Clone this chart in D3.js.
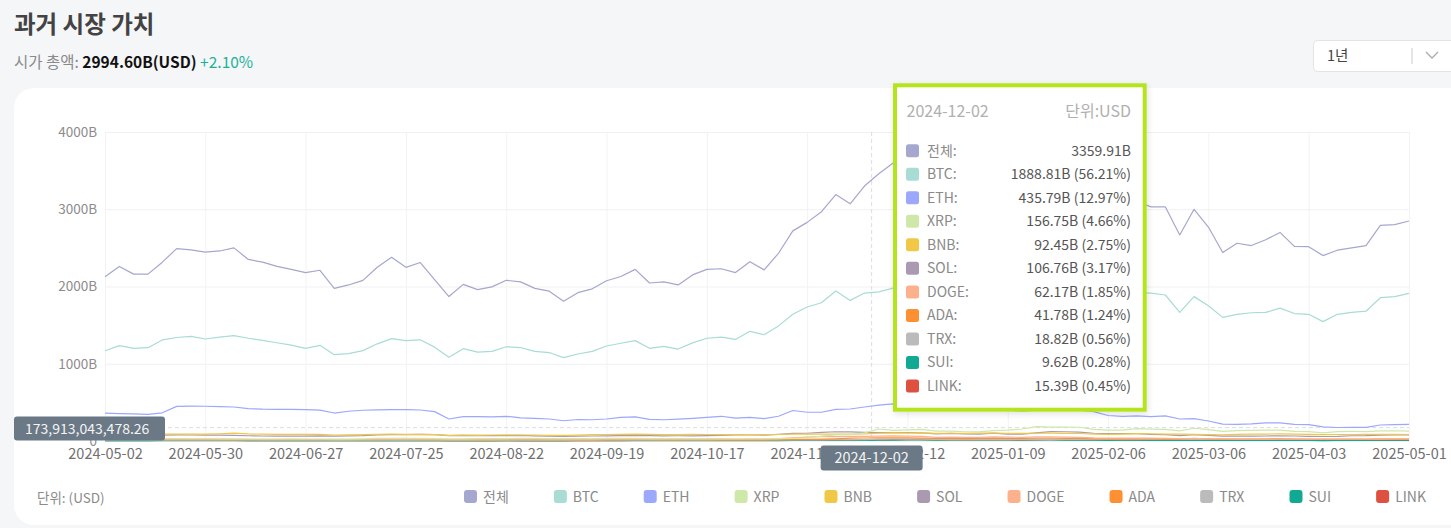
<!DOCTYPE html>
<html>
<head>
<meta charset="utf-8">
<title>과거 시장 가치</title>
<script src="https://cdn.jsdelivr.net/npm/d3@7"></script>
<style>
  body { margin: 0; background: #f5f6f8; overflow: hidden; }
  svg { display: block; font-family: "Noto Sans CJK KR", "Noto Sans", sans-serif; }
</style>
</head>
<body>
<script>

// series names and colours (legend order)
var names = ["전체", "BTC", "ETH", "XRP", "BNB", "SOL", "DOGE", "ADA", "TRX", "SUI", "LINK"];
var colours = ["#a5a7cf", "#a8dcd4", "#9ca8fb", "#cde8a8", "#f0c845", "#a999b1",
               "#fcb18c", "#fd9032", "#bbbbbb", "#12a993", "#de5141"];

// one reading every 4 days, 2024-05-02 .. 2025-05-01, market cap in B USD
var firstDay = "2024-05-02", stepDays = 4;

var total = [2127,2260,2160,2160,2315,2490,2475,2445,2460,2500,2350,2315,2260,2222,2180,2210,
  1975,2020,2080,2250,2378,2248,2310,2090,1870,2028,1960,1995,2080,2060,1976,1940,1810,1920,1970,2075,
  2130,2222,2045,2060,2020,2150,2222,2230,2180,2320,2215,2430,2720,2830,2969,3190,3070,3300,3460,3600,
  3650,3780,3400,3450,3330,3360,3600,3350,3250,3650,3700,3550,3500,3200,3150,3130,3100,
  3030,3030,2667,2999,2770,2440,2560,2530,2605,2700,2520,2515,2400,2470,2500,2530,2790,2800,2848];

var btc = [1169,1235,1200,1208,1308,1340,1355,1320,1345,1365,1330,1302,1272,1240,1200,1238,
  1118,1132,1170,1258,1326,1300,1310,1215,1085,1195,1150,1160,1220,1210,1160,1145,1080,1126,1160,1230,
  1265,1299,1200,1225,1190,1270,1330,1345,1315,1420,1375,1490,1640,1735,1790,1942,1820,1915,1930,1978,
  1990,2100,1920,1950,1880,1860,1950,1870,1870,2060,2080,2080,2060,1940,1920,1910,1920,
  1915,1890,1665,1869,1750,1600,1640,1660,1665,1720,1650,1640,1545,1640,1665,1680,1855,1869,1912];

var eth = [360,355,352,345,365,448,452,450,446,440,420,412,410,410,405,400,
  362,385,398,402,406,405,401,380,285,315,315,312,320,300,293,285,262,278,275,285,
  306,312,280,275,283,293,306,320,295,306,290,320,395,372,372,410,414,440,465,480,
  470,475,410,420,400,405,440,400,385,400,395,400,400,380,330,320,325,
  315,325,285,290,259,218,216,222,235,235,216,212,182,175,177,177,207,212,216];

var xrp = [29,28,29,28,29,30,29,29,28,27,26,26,26,27,26,26,24,24,28,33,34,33,34,32,27,28,30,31,32,33,
  33,31,30,31,32,33,34,33,32,30,31,31,30,30,29,29,29,31,33,40,62,80,83,105,155,138,
  145,150,128,128,120,118,135,140,155,185,180,180,178,150,140,140,160,
  155,150,130,165,148,125,135,138,142,140,125,122,105,122,124,122,130,133,128];

var bnb = [86,88,87,88,89,88,88,89,94,103,92,88,86,85,85,86,78,80,82,86,88,86,85,82,72,76,76,78,80,78,78,
  74,74,76,82,84,86,88,85,82,83,85,84,83,82,83,82,84,88,89,88,90,89,92,100,105,
  103,105,98,100,98,102,102,100,98,100,102,98,97,90,85,90,95,
  94,90,88,87,83,80,85,88,90,92,88,86,82,84,84,85,86,85,84];

var sol = [65,67,70,70,77,80,78,76,75,73,68,65,63,62,63,66,64,66,70,80,83,82,85,83,70,72,68,69,70,73,67,
  62,61,63,65,67,69,72,70,67,68,67,70,73,79,82,76,87,98,100,112,120,118,112,108,110,
  110,105,92,98,91,90,102,90,90,105,122,120,115,100,95,95,95,
  86,82,70,82,72,62,62,63,65,68,65,60,58,60,68,70,77,78,78];

var doge = [20,22,21,22,24,24,23,23,23,22,20,19,18,18,17,17,15,15,16,18,19,19,18,16,14,15,14,14,15,15,15,
  14,14,14,15,16,16,18,17,16,16,17,19,20,21,24,23,30,40,50,58,57,60,60,62,66,
  63,60,48,50,47,47,53,50,48,55,55,50,48,40,38,38,38,
  37,34,30,32,30,26,25,25,25,26,25,24,23,23,23,23,25,26,26];

var ada = [16,17,16,16,17,18,16,16,15,15,15,14,14,14,13,14,13,13,14,15,16,16,15,14,12,13,12,12,13,13,12,
  12,12,12,12,13,13,14,13,12,12,13,12,12,12,12,12,14,18,20,24,28,36,39,42,40,
  40,38,34,36,32,33,37,35,34,37,36,34,33,28,27,27,28,
  27,25,24,33,26,25,25,25,26,27,24,22,21,21,22,22,24,24,24];

var trx = [10,10,10,10,11,11,11,11,11,11,11,11,11,11,11,11,11,11,11,12,12,12,12,12,11,11,11,11,12,13,14,
  13,13,13,13,13,13,13,13,13,14,14,14,14,14,14,14,14,15,15,15,17,17,17,25,26,
  23,24,21,22,22,22,22,21,21,22,22,21,21,21,21,21,21,
  21,21,21,21,21,21,20,20,21,21,21,21,21,21,21,22,22,22,22];

var sui = [2,2,2,2,3,3,3,3,3,3,2,2,2,2,2,2,2,2,2,2,2,2,2,2,2,2,2,2,2,2,2,
  2,2,3,3,4,4,5,5,5,5,6,6,6,5,5,5,6,8,10,11,10,10,9,10,12,
  13,13,11,13,13,14,15,14,14,14,13,12,12,10,9,10,10,
  9,9,9,9,8,8,7,7,8,8,7,7,6,7,7,7,11,11,11];

var link = [8,8,8,9,9,10,10,10,10,10,9,9,8,8,8,8,7,7,8,8,8,8,8,7,6,6,6,6,7,6,6,
  6,6,6,6,6,6,7,7,7,7,7,7,7,7,7,7,8,8,8,9,10,10,12,15,15,
  17,18,14,14,13,13,13,13,12,14,16,15,15,13,12,12,12,
  11,10,9,10,10,9,9,9,9,10,9,8,7,8,8,8,9,9,9];

var series = [total, btc, eth, xrp, bnb, sol, doge, ada, trx, sui, link];

// axis ticks
var xTickLabels = ["2024-05-02","2024-05-30","2024-06-27","2024-07-25","2024-08-22","2024-09-19",
  "2024-10-17","2024-11-14","2024-12-12","2025-01-09","2025-02-06","2025-03-06","2025-04-03","2025-05-01"];
var yTicks = [0, 1000, 2000, 3000, 4000];

// hovered point shown in the tooltip
var hoverDay = "2024-12-02";
var hoverValueLabel = "173,913,043,478.26";
var tipValues = ["3359.91B", "1888.81B", "435.79B", "156.75B", "92.45B", "106.76B",
                 "62.17B", "41.78B", "18.82B", "9.62B", "15.39B"];
var tipShares = ["", "56.21%", "12.97%", "4.66%", "2.75%", "3.17%", "1.85%", "1.24%", "0.56%", "0.28%", "0.45%"];

var parse = d3.utcParse("%Y-%m-%d");
var fmt = d3.utcFormat("%Y-%m-%d");
var dates = total.map(function (d, i) { return d3.utcDay.offset(parse(firstDay), i * stepDays); });

var W = 1451, H = 528;
var svg = d3.select("body").append("svg").attr("width", W).attr("height", H);

// page header
svg.append("text").attr("x", 14).attr("y", 33)
   .attr("font-size", 23.5).attr("font-weight", 700).attr("fill", "#434343")
   .text("과거 시장 가치");

var sub = svg.append("text").attr("x", 14).attr("y", 68).attr("font-size", 15.5);
sub.append("tspan").attr("fill", "#8a8a8a").text("시가 총액: ");
sub.append("tspan").attr("fill", "#111").attr("font-weight", 700).text("2994.60B(USD)");
sub.append("tspan").attr("fill", "#1db198").text(" +2.10%");

// period select box
svg.append("rect").attr("x", 1313.5).attr("y", 40.5).attr("width", 150).attr("height", 31)
   .attr("rx", 4).attr("fill", "#fff").attr("stroke", "#e3e3e3");
svg.append("text").attr("x", 1327).attr("y", 61).attr("font-size", 14.5).attr("fill", "#444").text("1년");
svg.append("line").attr("x1", 1412).attr("x2", 1412).attr("y1", 48).attr("y2", 64)
   .attr("stroke", "#dcdcdc").attr("stroke-width", 1.5);
svg.append("path").attr("d", "M1426,52 L1432,58 L1438,52").attr("fill", "none")
   .attr("stroke", "#aaa").attr("stroke-width", 1.3);

// white card
svg.append("rect").attr("x", 14).attr("y", 88).attr("width", 1460).attr("height", 437)
   .attr("rx", 20).attr("fill", "#fff");

// scales
var x = d3.scaleUtc().domain([parse(xTickLabels[0]), parse(xTickLabels[xTickLabels.length - 1])]).range([105, 1409]);
var y = d3.scaleLinear().domain([0, 4000]).range([441, 132]);

// grid
svg.append("g").attr("transform", "translate(0,441)")
   .call(d3.axisBottom(x).tickValues(xTickLabels.map(parse)).tickSize(-309).tickFormat(""))
   .call(function (g) {
      g.select(".domain").remove();
      g.selectAll("line").attr("stroke", "#f3f3f5");
   });
svg.append("g").attr("transform", "translate(105,0)")
   .call(d3.axisLeft(y).tickValues(yTicks).tickSize(-1304).tickFormat(""))
   .call(function (g) {
      g.select(".domain").remove();
      g.selectAll("line").attr("stroke", "#f1f1f3");
   });

// axis labels
svg.append("g").attr("transform", "translate(97,0)")
   .call(d3.axisLeft(y).tickValues(yTicks).tickSize(0).tickPadding(0)
         .tickFormat(function (d) { return d === 0 ? "0" : d + "B"; }))
   .call(function (g) {
      g.select(".domain").remove();
      g.selectAll("text").attr("font-size", 13.5).attr("fill", "#8c8c8c")
       .attr("font-family", "\"Noto Sans CJK KR\", sans-serif");
   });
svg.append("g").attr("transform", "translate(0,449)")
   .call(d3.axisBottom(x).tickValues(xTickLabels.map(parse)).tickSize(0).tickPadding(0).tickFormat(fmt))
   .call(function (g) {
      g.select(".domain").remove();
      g.selectAll("text").attr("font-size", 14.5).attr("fill", "#707070")
       .attr("font-family", "\"Noto Sans CJK KR\", sans-serif");
   });

// crosshair
var hx = x(parse(hoverDay));
svg.append("line").attr("x1", hx).attr("x2", hx).attr("y1", 132).attr("y2", 441)
   .attr("stroke", "#dcdde3").attr("stroke-dasharray", "4,3");
svg.append("line").attr("x1", 105).attr("x2", 1409).attr("y1", 427.6).attr("y2", 427.6)
   .attr("stroke", "#dcdde3").attr("stroke-dasharray", "4,3");

// lines
var line = d3.line()
   .x(function (d, i) { return x(dates[i]); })
   .y(function (d) { return y(d); });

svg.append("g").selectAll("path")
   .data(series.slice().reverse())
   .enter().append("path")
   .attr("d", line)
   .attr("fill", "none")
   .attr("stroke-width", 1.2)
   .attr("stroke-linejoin", "round")
   .attr("stroke", function (d, i) { return colours[series.length - 1 - i]; });

// crosshair tags
svg.append("rect").attr("x", 14).attr("y", 416.5).attr("width", 151).attr("height", 24)
   .attr("rx", 3).attr("fill", "#6b7986");
svg.append("text").attr("x", 25).attr("y", 433.5).attr("font-size", 14).attr("fill", "#f4f4f4")
   .text(hoverValueLabel);
svg.append("rect").attr("x", hx - 51).attr("y", 445.5).attr("width", 102).attr("height", 25)
   .attr("rx", 3).attr("fill", "#6b7986");
svg.append("text").attr("x", hx).attr("y", 463).attr("font-size", 14.5).attr("fill", "#f4f4f4")
   .attr("text-anchor", "middle").text(hoverDay);

// tooltip
var defs = svg.append("defs");
var f = defs.append("filter").attr("id", "sh").attr("x", "-10%").attr("y", "-10%").attr("width", "130%").attr("height", "130%");
f.append("feDropShadow").attr("dx", 1).attr("dy", 2).attr("stdDeviation", 3).attr("flood-color", "#000").attr("flood-opacity", 0.12);

svg.append("rect").attr("x", 895).attr("y", 85.3).attr("width", 249.7).attr("height", 324.4)
   .attr("fill", "#fff").attr("stroke", "#b4e51e").attr("stroke-width", 4).attr("filter", "url(#sh)");
svg.append("text").attr("x", 906.5).attr("y", 117).attr("font-size", 16).attr("fill", "#b0b0b0").text(hoverDay);
svg.append("text").attr("x", 1131).attr("y", 117).attr("font-size", 16).attr("fill", "#b0b0b0")
   .attr("text-anchor", "end").text("단위:USD");

var rows = svg.append("g").selectAll("g").data(names).enter().append("g")
   .attr("transform", function (d, i) { return "translate(0," + (150.7 + i * 23.53) + ")"; });
rows.append("rect").attr("x", 906).attr("y", -6.5).attr("width", 13).attr("height", 13).attr("rx", 2.5)
   .attr("fill", function (d, i) { return colours[i]; });
rows.append("text").attr("x", 927).attr("y", 5).attr("font-size", 14).attr("fill", "#8a8a8a")
   .text(function (d) { return d + ":"; });
rows.append("text").attr("x", 1131).attr("y", 5).attr("font-size", 14).attr("fill", "#555")
   .attr("text-anchor", "end")
   .text(function (d, i) { return tipValues[i] + (tipShares[i] ? " (" + tipShares[i] + ")" : ""); });

// footer: unit and legend
svg.append("text").attr("x", 37).attr("y", 503).attr("font-size", 13.5).attr("fill", "#8a8a8a").text("단위: (USD)");

var leg = svg.append("g");
var items = leg.selectAll("g").data(names).enter().append("g");
items.append("rect").attr("width", 13).attr("height", 13).attr("rx", 3).attr("y", 490)
   .attr("fill", function (d, i) { return colours[i]; });
items.append("text").attr("x", 19).attr("y", 501.5).attr("font-size", 14).attr("fill", "#8a8a8a")
   .text(function (d) { return d; });
var widths = [];
items.each(function () { widths.push(19 + d3.select(this).select("text").node().getComputedTextLength()); });
var gap = (1426 - 464 - d3.sum(widths)) / (names.length - 1);
var cx = 464;
items.attr("transform", function (d, i) { var t = "translate(" + cx + ",0)"; cx += widths[i] + gap; return t; });

</script>
</body>
</html>
